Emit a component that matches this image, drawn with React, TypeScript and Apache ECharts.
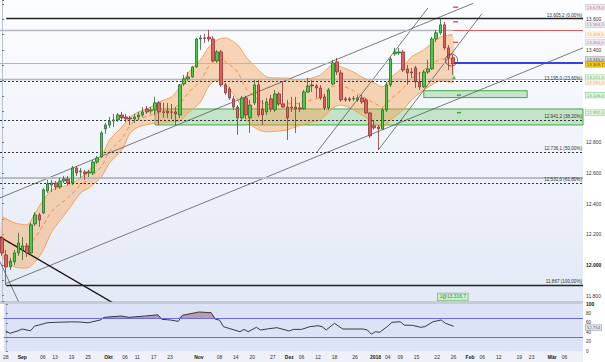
import React, { useEffect, useRef } from "react";
import * as echarts from "echarts";

// ---------- candles (trading day index 0 = 28 Aug 2017) ----------
const opens = [12176,12065,11987,12020,12078,12098,12124,12078,12267,12326,
12339,12482,12521,12534,12508,12547,12560,12534,12632,12606,
12606,12599,12599,12671,12704,12886,12912,12938,12945,12977,
12964,12958,12951,12964,12977,13016,13003,13010,13056,12997,
13003,12997,12997,12977,13179,13212,13225,13290,13472,13479,
13485,13472,13329,13388,13173,13147,13082,13029,12958,13088,
12958,13056,13173,13016,12997,13082,13010,13114,13049,13029,
13029,13029,13023,13016,13127,13173,13166,13153,13095,13023,
13179,13323,13251,13082,13082,13082,13075,13088,13075,12990,
12906,12899,12886,13010,13173,13375,13381,13388,13277,13257,
13284,13192,13160,13257,13277,13472,13512,13564,13414,13349];
const closes = [12078,11987,12026,12078,12143,12124,12078,12261,12326,12293,
12489,12528,12534,12508,12547,12560,12534,12632,12599,12612,
12593,12606,12671,12697,12860,12912,12938,12945,12977,12958,
12951,12951,12964,12977,12997,12997,13010,13056,12997,12994,
12990,12994,12984,13173,13212,13225,13290,13472,13479,13476,
13472,13329,13388,13173,13121,13088,13029,12958,13088,12977,
13042,13173,12977,12977,13062,13016,13114,13049,13029,12958,
13023,13016,13016,13127,13166,13166,13153,13088,13023,13140,
13316,13257,13075,13075,13075,13085,13088,13062,12990,12841,
12893,12886,13010,13173,13342,13388,13388,13270,13251,13251,
13192,13160,13257,13277,13472,13512,13564,13414,13349,13310];
const lows = [12059,11867,11967,12000,12059,12033,12052,12059,12254,12248,
12332,12469,12476,12489,12495,12534,12521,12521,12580,12567,
12554,12573,12586,12658,12697,12854,12893,12899,12932,12945,
12932,12912,12925,12945,12964,12984,12984,12977,12912,12958,
12958,12951,12912,12958,13166,13199,13218,13284,13401,13446,
13453,13323,13316,13160,13108,13075,13010,12847,12945,12951,
12860,13042,12964,12912,12977,12997,12997,13036,13023,12814,
12997,12860,12997,13010,13121,13127,13088,13075,13010,13010,
13173,13238,13062,13062,13062,13069,13062,13049,12984,12827,
12880,12749,12880,12997,13160,13362,13368,13257,13173,13218,
13153,13140,13153,13244,13270,13453,13499,13401,13270,13238];
const highs = [12189,12098,12046,12098,12209,12182,12143,12274,12345,12339,
12502,12554,12554,12547,12567,12580,12580,12645,12645,12632,
12619,12619,12684,12710,12873,12925,12964,12984,12990,12997,
12984,12971,12984,12997,13029,13036,13029,13095,13069,13056,
13056,13049,13029,13179,13238,13257,13297,13479,13499,13505,
13531,13492,13401,13401,13186,13160,13101,13042,13101,13101,
13075,13205,13205,13075,13088,13108,13140,13127,13192,13075,
13095,13095,13056,13140,13218,13205,13179,13173,13114,13153,
13336,13349,13270,13095,13095,13101,13108,13108,13088,12997,
12945,12912,13023,13192,13355,13414,13414,13401,13303,13284,
13297,13257,13270,13336,13485,13531,13605,13583,13433,13368];

// ---------- orange band (read at sampled days) ----------
const bandIdx = [0,3,6,8,10,12,16,19,21,24,26,29,31,33,36,38,41,43,45,48,50,52,54,57,59,62,64,67,69,71,74,77,80,82,85,87,90,92,94,97,99,102,104,106,109];
const bandUpper = [12313,12274,12261,12339,12424,12489,12521,12567,12619,12704,12814,12899,12964,12997,13029,13062,13095,13160,13251,13336,13420,13466,13479,13433,13355,13270,13225,13218,13218,13205,13212,13238,13303,13290,13257,13225,13186,13160,13218,13290,13355,13401,13446,13485,13499];
const bandMid = [12180,12130,12120,12180,12260,12350,12440,12520,12560,12640,12740,12825,12910,12950,12975,12995,13015,13050,13120,13200,13295,13335,13325,13255,13150,13075,13045,13045,13050,13050,13070,13090,13165,13165,13135,13100,13055,13030,13080,13150,13215,13270,13310,13340,13344];
const bandLower = [12052,11987,11980,12020,12098,12215,12358,12469,12502,12573,12665,12749,12860,12899,12919,12925,12932,12938,12990,13062,13166,13205,13173,13075,12945,12880,12867,12873,12880,12899,12925,12945,13023,13042,13010,12977,12925,12899,12945,13010,13075,13140,13173,13200,13190];

// ---------- indicator (RSI) ----------
const rsiIdx = [0,1,3,4,6,7,8,10,12,16,18,20,23,24,28,30,34,37,38,40,42,43,47,50,51,52,53,57,58,59,61,62,64,66,69,70,72,74,76,77,78,80,82,85,87,88,89,90,91,93,94,96,97,99,101,102,104,106,107,109];
const rsiVal = [42.5,37.6,43,46.8,43,53,55,60,61,62,61.7,60,66,71.6,74.5,71.6,74.5,77,67.4,66,63,76,83,81.5,67.4,66,51.7,41,46,41,50.4,44.7,47.4,49.6,42.5,46,46,51.7,53.8,51.7,44.7,59,46.8,46.8,46.8,44.7,36,41,39.7,53,61,62.3,55,54.6,50.4,51.7,62.3,66,59,52.754];
const rsiLevels = [70, 30];
const rsiLast = 52.754;

// ---------- x tick labels ----------
const xLabelIdx = [0,4,9,12,16,20,25,29,32,36,40,47,52,56,60,65,69,72,76,80,85,90,93,96,100,105,109,113,116,120,125,128,133,136];
const xLabelText = ["28","Sep","06","13","19","25","Okt","06","11","17","23","Nov","08","14","20","27","Dez","06","12","18","26","2018","04","09","15","22","26","Feb","06","12","19","23","Mär","06"];
const xBold = ["Sep","Okt","Nov","Dez","2018","Feb","Mär"];

// ---------- fibonacci levels ----------
const fibVals = [13605.2, 13195.0, 12941.2, 12736.1, 12531.0, 11867.0];
const fibPcts = ["0,00%", "23,60%", "38,20%", "50,00%", "61,80%", "100,00%"];

// ---------- horizontal levels ----------
const levelVals = [13531, 13315, 13212, 12565];

// ---------- zones ----------
const zoneStart = [37, 102];
const zoneEnd = [140.5, 127];
const zoneTop = [13016, 13135];
const zoneBottom = [12912, 13090];

// ---------- trend lines [day, price] ----------
const trendA = [[-0.5, 12437], [114, 13705]];
const trendB = [[1, 11880], [140.5, 13414]];
const trendC = [[-0.5, 12182], [27, 11750]];
const trendD = [[-0.5, 12020], [4, 11760]];
const trendF = [[76, 12730], [103, 13674]];
const trendG = [[91, 12749], [116, 13635]];

// ---------- right side value labels ----------
const rightLabelVals = [13679, 13584, 13499.5, 13450, 13344.4, 13335, 13309.7, 13221, 13190.3, 13106, 12992];
const rightLabelKinds = ["target","target","band","target","band","level","price","zone","band","zone","zone"];

// ---------- annotations ----------
const targetMarks = [13679, 13584, 13450];
const zoneMarks = [13106, 12992];
const arrowMark = 13222;
const circleMark = 13335;
const positionText = "1@13.316,7";
const positionAt = 11792;

const FONT = "'Liberation Sans', Arial, sans-serif";

function de(v: number, d: number): string {
  const s = v.toFixed(d);
  const parts = s.split(".");
  const ii = parts[0].replace(/\B(?=(\d{3})+(?!\d))/g, ".");
  return parts.length > 1 ? ii + "," + parts[1] : ii;
}

const kindStyle: Record<string, any> = {
  target: { color: "#d42a2a", bg: "#e8ecf4", border: "#b8c0d0" },
  band: { color: "#e8870e", bg: "#fff4e6", border: "#f0c48a" },
  level: { color: "#222", bg: "#d4d8e0", border: "#9aa2b2" },
  price: { color: "#111", bg: "#f2c200", border: "#b88e00" },
  zone: { color: "#2a962a", bg: "#e2f5e2", border: "#7cc87c" },
};

export default function App() {
  const ref = useRef<HTMLDivElement>(null);
  useEffect(() => {
    if (!ref.current) return;
    const chart = echarts.init(ref.current, null, { renderer: "svg" });
    const X_MIN = -0.5;
    const X_MAX = 140.5;
    const lastIdx = opens.length - 1;
    const candles = opens.map((o, i) => [i, o, closes[i], lows[i], highs[i]]);
    const pairs = (xs: number[], ys: number[]) => xs.map((x, i) => [x, ys[i]]);

    const fibLines = fibVals.map((v, k) => {
      const solid = k === 0 || k === fibVals.length - 1;
      const txt = k === fibVals.length - 1 ? de(v, 0) : de(v, 1);
      return [
        {
          coord: [solid ? 1 : X_MIN, v],
          lineStyle: { color: solid ? "#222" : "#333", width: solid ? 1.4 : 1.2, type: solid ? "solid" : [2, 2] },
          label: { show: true, formatter: `${txt} (${fibPcts[k]})`, position: "insideEndTop", distance: 1, fontSize: 4.6, color: "#333" },
        },
        { coord: [X_MAX, v] },
      ];
    });
    const leftColors = ["#b2b6c0", "#b2b6c0", "#b2b6c0", "#b9bcc5"];
    const leftWidths = [1.3, 1.1, 1.3, 2.2];
    const rightColors = ["#e05a5a", "#3344e0", "#eaa6ae", "#b9bcc5"];
    const rightWidths = [1, 2.2, 1, 2.2];
    const levelLines: any[] = [];
    levelVals.forEach((v, k) => {
      levelLines.push([{ coord: [X_MIN, v], lineStyle: { color: leftColors[k], width: leftWidths[k], type: "solid" } }, { coord: [lastIdx, v] }]);
      levelLines.push([{ coord: [lastIdx, v], lineStyle: { color: rightColors[k], width: rightWidths[k], type: "solid" } }, { coord: [X_MAX, v] }]);
    });

    const labelOffsets: Record<string, number> = { "13584": 3, "13344.4": 1.5, "13335": -1, "13309.7": 0.5 };

    const trend = (d: number[][], color: string, width: number) => ({
      type: "line", xAxisIndex: 0, yAxisIndex: 0, data: d, showSymbol: false, silent: true, z: 4,
      lineStyle: { color, width }, clip: true,
    });

    const option: any = {
      animation: false,
      backgroundColor: "#ffffff",
      textStyle: { fontFamily: FONT },
      grid: [
        {
          left: 0, right: 22, top: 0, height: 301, show: true, borderWidth: 0,
          backgroundColor: new echarts.graphic.LinearGradient(0, 0, 0, 1, [
            { offset: 0, color: "#fcfdff" },
            { offset: 1, color: "#e3e9f6" },
          ]),
        },
        { left: 0, right: 22, top: 304, height: 47, show: true, borderWidth: 0, backgroundColor: "#dde3f6" },
      ],
      graphic: [
        { type: "rect", x: 0, y: 301, shape: { x: 0, y: 0, width: 583, height: 3 }, style: { fill: "#c6cbd5" }, silent: true },
        { type: "rect", x: 0, y: 351, shape: { x: 0, y: 0, width: 583, height: 11 }, style: { fill: "#eef1f8" }, silent: true, z: -1 },
      ],
      xAxis: [
        { type: "value", gridIndex: 0, min: X_MIN, max: X_MAX, show: false, splitLine: { show: false } },
        {
          type: "value", gridIndex: 1, min: X_MIN, max: X_MAX,
          splitLine: { show: false }, axisLine: { show: false }, axisTick: { show: false },
          axisLabel: {
            customValues: xLabelIdx,
            fontSize: 5, color: "#333", margin: 3,
            formatter: (v: number) => {
              const k = xLabelIdx.indexOf(Math.round(v));
              if (k < 0) return "";
              const t = xLabelText[k];
              return xBold.indexOf(t) >= 0 ? `{m|${t}}` : t;
            },
            rich: { m: { fontWeight: "bold", fontSize: 5, color: "#1a1a1a" } },
          },
        },
      ],
      yAxis: [
        {
          type: "value", gridIndex: 0, position: "right", min: 11765, max: 13726,
          minInterval: 100, maxInterval: 100, splitLine: { show: false },
          axisLine: { show: true, lineStyle: { color: "#b8c2d6" } },
          axisTick: { show: true, length: 2, lineStyle: { color: "#777" } },
          axisLabel: {
            fontSize: 5, color: "#333", margin: 3,
            formatter: (v: number) => {
              if (Math.abs(v % 200) > 0.01) return "";
              if (v === 13000 || v === 13200) return "";
              return v === 12000 ? `{b|${de(v, 0)}}` : de(v, 0);
            },
            rich: { b: { fontWeight: "bold", fontSize: 5, color: "#111" } },
          },
        },
        {
          type: "value", gridIndex: 1, position: "right", min: 0, max: 100, interval: 20,
          splitLine: { show: false },
          axisLine: { show: true, lineStyle: { color: "#b8c2d6" } },
          axisTick: { show: true, length: 2, lineStyle: { color: "#777" } },
          axisLabel: {
            fontSize: 4.6, color: "#333", margin: 3,
            formatter: (v: number) => (v === 100 ? `{b|100}` : String(v)),
            rich: { b: { fontWeight: "bold", fontSize: 5, color: "#111" } },
          },
        },
      ],
      series: [
        {
          type: "custom", xAxisIndex: 0, yAxisIndex: 0, data: [[0, 13000]], encode: { x: 0, y: 1 },
          clip: true, silent: true, z: 1,
          renderItem: (params: any, api: any) => {
            const up = bandIdx.map((x, i) => api.coord([x, bandUpper[i]]));
            const lo = bandIdx.map((x, i) => api.coord([x, bandLower[i]])).reverse();
            return {
              type: "polygon",
              shape: { points: up.concat(lo), smooth: 0.25 },
              style: { fill: "rgba(247,160,80,0.42)", stroke: "none" },
            };
          },
        },
        {
          type: "line", xAxisIndex: 0, yAxisIndex: 0, data: pairs(bandIdx, bandUpper), showSymbol: false, silent: true, z: 2,
          smooth: 0.25, lineStyle: { color: "#f4a458", width: 1 },
        },
        {
          type: "line", xAxisIndex: 0, yAxisIndex: 0, data: pairs(bandIdx, bandLower), showSymbol: false, silent: true, z: 2,
          smooth: 0.25, lineStyle: { color: "#f4a458", width: 1 },
          markArea: {
            silent: true,
            itemStyle: { color: "rgba(108,196,108,0.36)", borderColor: "#48a848", borderWidth: 1 },
            data: zoneStart.map((x0, k) => [{ coord: [x0, zoneTop[k]] }, { coord: [zoneEnd[k], zoneBottom[k]] }]),
          },
        },
        {
          type: "line", xAxisIndex: 0, yAxisIndex: 0, data: pairs(bandIdx, bandMid), showSymbol: false, silent: true, z: 2,
          smooth: 0.25, lineStyle: { color: "#f0903c", width: 1, type: [4, 3] },
          markLine: {
            silent: true, symbol: ["none", "none"], label: { show: false },
            data: [...levelLines, ...fibLines],
          },
        },
        trend(trendA, "#5a5a5a", 0.8),
        trend(trendB, "#5a5a5a", 0.8),
        trend(trendC, "#111111", 1.3),
        trend(trendD, "#5a5a5a", 0.8),
        trend(trendF, "#5a5a5a", 0.8),
        trend(trendG, "#5a5a5a", 0.8),
        {
          type: "candlestick", xAxisIndex: 0, yAxisIndex: 0, data: candles,
          encode: { x: 0, y: [1, 2, 3, 4] }, barWidth: 3, silent: true, z: 5,
          itemStyle: { color: "#3fd13f", color0: "#e85b5b", borderColor: "#2d6a2d", borderColor0: "#8a3636", borderWidth: 0.8 },
        },
        {
          type: "scatter", xAxisIndex: 0, yAxisIndex: 0, silent: true, z: 6, symbol: "rect", symbolSize: [5, 1.5],
          itemStyle: { color: "#e03030" }, data: targetMarks.map((v) => [lastIdx + 0.7, v]),
        },
        {
          type: "scatter", xAxisIndex: 0, yAxisIndex: 0, silent: true, z: 6, symbol: "rect", symbolSize: [4, 1.5],
          itemStyle: { color: "#2a8a2a" }, data: zoneMarks.map((v) => [lastIdx + 1.5, v]),
        },
        {
          type: "scatter", xAxisIndex: 0, yAxisIndex: 0, silent: true, z: 6, symbol: "triangle", symbolSize: 4,
          itemStyle: { color: "#2ab02a" }, data: [[lastIdx + 0.3, arrowMark]],
        },
        {
          type: "scatter", xAxisIndex: 0, yAxisIndex: 0, silent: true, z: 7, symbol: "circle", symbolSize: 12,
          itemStyle: { color: "rgba(0,0,0,0)", borderColor: "#444", borderWidth: 0.9 }, data: [[lastIdx - 0.3, circleMark]],
        },
        {
          type: "scatter", xAxisIndex: 0, yAxisIndex: 0, silent: true, z: 8, symbolSize: 1, clip: false,
          itemStyle: { color: "rgba(0,0,0,0)" },
          data: [{
            value: [lastIdx, positionAt],
            label: {
              show: true, position: "inside", formatter: positionText, fontSize: 4.8, color: "#1b5e1b",
              backgroundColor: "#c6eec6", borderColor: "#5cb85c", borderWidth: 0.7, padding: [1, 2],
            },
          }],
        },
        {
          type: "scatter", xAxisIndex: 0, yAxisIndex: 0, silent: true, z: 10, symbolSize: 1, clip: false,
          itemStyle: { color: "rgba(0,0,0,0)" },
          data: rightLabelVals.map((v, k) => {
            const st = kindStyle[rightLabelKinds[k]];
            return {
              value: [X_MAX, v],
              label: {
                show: true, position: "right", distance: 2, formatter: de(v, 1),
                color: st.color, backgroundColor: st.bg, borderColor: st.border, borderWidth: 0.6,
                padding: [0.2, 1.2], fontSize: 4.4, lineHeight: 4.6, offset: [0, labelOffsets[String(v)] || 0],
              },
            };
          }),
        },
        {
          type: "line", xAxisIndex: 1, yAxisIndex: 1, data: pairs(rsiIdx, rsiVal.map((v) => Math.max(v, rsiLevels[0]))),
          showSymbol: false, silent: true, z: 2, lineStyle: { width: 0 },
          areaStyle: { origin: rsiLevels[0], color: "rgba(130,40,60,0.55)" },
        },
        {
          type: "line", xAxisIndex: 1, yAxisIndex: 1, data: pairs(rsiIdx, rsiVal), showSymbol: false, silent: true, z: 3,
          lineStyle: { color: "#3a3a3a", width: 1 },
          markLine: {
            silent: true, symbol: ["none", "none"], label: { show: false },
            lineStyle: { color: "#6c6ce0", width: 1, type: "solid" },
            data: rsiLevels.map((v) => ({ yAxis: v })),
          },
        },
        {
          type: "scatter", xAxisIndex: 1, yAxisIndex: 1, silent: true, z: 10, symbolSize: 1, clip: false,
          itemStyle: { color: "rgba(0,0,0,0)" },
          data: [{
            value: [X_MAX, rsiLast],
            label: {
              show: true, position: "right", distance: 2, formatter: de(rsiLast, 3),
              color: "#222", backgroundColor: "#e6e8ee", borderColor: "#8a90a0", borderWidth: 0.6,
              padding: [0.2, 1.2], fontSize: 4.4, lineHeight: 4.6, offset: [0, 1.5],
            },
          }],
        },
      ],
    };
    chart.setOption(option);
    return () => chart.dispose();
  }, []);
  return (
    <div
      ref={ref}
      style={{ position: "fixed", left: 0, top: 0, width: 605, height: 362, background: "#ffffff" }}
    />
  );
}
